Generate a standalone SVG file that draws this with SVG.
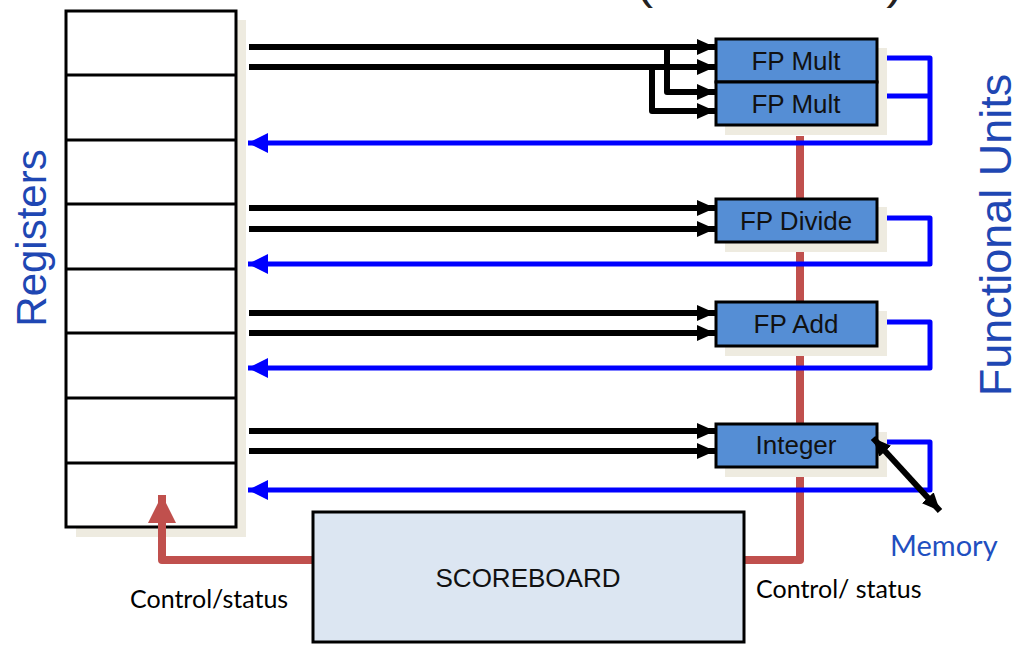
<svg xmlns="http://www.w3.org/2000/svg" width="1036" height="650" viewBox="0 0 1036 650">
<defs>
<style>
.shadow{fill:#eeebe0;stroke:none}
.fu{fill:#558ed5;stroke:#000;stroke-width:3}
.fuText{font-family:"Liberation Sans",Arial,sans-serif;font-size:26px;fill:#111;text-anchor:middle}
.blk{fill:none;stroke:#000;stroke-width:6;stroke-linejoin:round}
.blu{fill:none;stroke:#0000ff;stroke-width:5;stroke-linejoin:round}
.red{fill:none;stroke:#c0504d;stroke-width:8;stroke-linejoin:round}
.side{font-family:"Liberation Sans",Arial,sans-serif;fill:#1f47b3}
.cs{font-family:Lato,"Open Sans",sans-serif;font-size:25px;fill:#000}
</style>
<marker id="ah" markerUnits="userSpaceOnUse" markerWidth="18" markerHeight="16" refX="18" refY="8" orient="auto-start-reverse"><path d="M0,0 L18,8 L0,16 z" fill="#000"/></marker>
<marker id="ab" markerUnits="userSpaceOnUse" markerWidth="20" markerHeight="20" refX="20" refY="10" orient="auto"><path d="M0,0 L20,10 L0,20 z" fill="#0000ff"/></marker>
<marker id="ar" markerUnits="userSpaceOnUse" markerWidth="28" markerHeight="28" refX="28" refY="14" orient="auto"><path d="M0,0 L28,14 L0,28 z" fill="#c0504d"/></marker>
</defs>
<rect width="1036" height="650" fill="#fff"/>
<text x="495" y="-1" text-anchor="middle" font-family="Liberation Sans,Arial,sans-serif" font-size="44" fill="#222" textLength="816" lengthAdjust="spacingAndGlyphs">Scoreboard Architecture (CDC 6600)</text>

<g id="registers">
<rect class="shadow" x="236" y="20" width="10" height="517"/>
<rect class="shadow" x="76" y="527" width="170" height="10"/>
<rect x="66" y="11" width="170" height="516" fill="#fff" stroke="#000" stroke-width="3"/>
<path d="M66,75H236M66,140H236M66,204H236M66,269H236M66,333H236M66,398H236M66,463H236" stroke="#000" stroke-width="3"/>
<text class="side" font-size="42" transform="translate(46,238) rotate(-90)" text-anchor="middle">Registers</text>
</g>

<g id="connectors">
<path class="red" d="M800,136 V560 H745"/>
<path class="red" d="M313,560 H162 V495" marker-end="url(#ar)"/>
<path class="blk" d="M249,47 H715" marker-end="url(#ah)"/>
<path class="blk" d="M249,67 H715" marker-end="url(#ah)"/>
<path class="blk" d="M667,47 V92 H715" marker-end="url(#ah)"/>
<path class="blk" d="M652,67 V111 H715" marker-end="url(#ah)"/>
<path class="blk" d="M249,208 H715" marker-end="url(#ah)"/>
<path class="blk" d="M249,229 H715" marker-end="url(#ah)"/>
<path class="blk" d="M249,313 H715" marker-end="url(#ah)"/>
<path class="blk" d="M249,333 H715" marker-end="url(#ah)"/>
<path class="blk" d="M249,431 H715" marker-end="url(#ah)"/>
<path class="blk" d="M249,451 H715" marker-end="url(#ah)"/>
<path class="blu" d="M877,58 H930 V143 H248" marker-end="url(#ab)"/>
<path class="blu" d="M877,96 H930"/>
<path class="blu" d="M877,218 H930 V264 H248" marker-end="url(#ab)"/>
<path class="blu" d="M877,322 H930 V368 H248" marker-end="url(#ab)"/>
<path class="blu" d="M877,442 H930 V490 H248" marker-end="url(#ab)"/>
</g>

<g id="fu-mult">
<rect class="shadow" x="725" y="48" width="162" height="87"/>
<rect class="fu" x="716" y="39" width="161" height="43"/>
<text class="fuText" x="796" y="70">FP Mult</text>
</g>
<g id="fu-mult2">
<rect class="fu" x="716" y="82" width="161" height="43"/>
<text class="fuText" x="796" y="113">FP Mult</text>
</g>
<g id="fu-divide">
<rect class="shadow" x="725" y="207" width="162" height="45"/>
<rect class="fu" x="716" y="199" width="161" height="43"/>
<text class="fuText" x="796" y="230">FP Divide</text>
</g>
<g id="fu-add">
<rect class="shadow" x="725" y="311" width="162" height="45"/>
<rect class="fu" x="716" y="302" width="161" height="44"/>
<text class="fuText" x="796" y="333">FP Add</text>
</g>
<g id="fu-integer">
<rect class="shadow" x="725" y="432" width="162" height="45"/>
<rect class="fu" x="716" y="424" width="161" height="43"/>
<text class="fuText" x="796" y="454">Integer</text>
</g>

<g id="memory-link">
<path class="blk" d="M873,438 L940,511" stroke-width="5" marker-start="url(#ah)" marker-end="url(#ah)"/>
</g>

<g id="scoreboard">
<rect x="313" y="512" width="431" height="130" fill="#dce6f2" stroke="#000" stroke-width="3"/>
<text x="528" y="587" text-anchor="middle" font-family="Liberation Sans,Arial,sans-serif" font-size="26" fill="#111">SCOREBOARD</text>
</g>

<g id="labels">
<text class="side" font-size="45" transform="translate(1011,235) rotate(-90)" text-anchor="middle">Functional Units</text>
<text x="890" y="556" font-family="Lato,'Open Sans',sans-serif" font-size="29" fill="#1f4fc0">Memory</text>
<text class="cs" x="130" y="608">Control/status</text>
<text class="cs" x="756" y="598">Control/ status</text>
</g>
</svg>
